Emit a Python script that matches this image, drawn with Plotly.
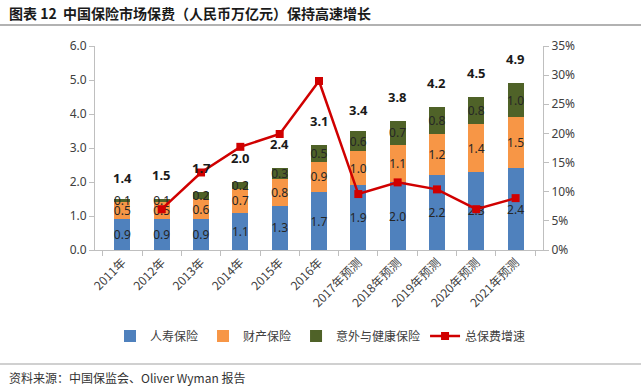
import plotly.graph_objects as go

years = ["2011年", "2012年", "2013年", "2014年", "2015年", "2016年",
         "2017年预测", "2018年预测", "2019年预测", "2020年预测", "2021年预测"]
life = [0.9, 0.9, 0.9, 1.1, 1.3, 1.7, 1.9, 2.0, 2.2, 2.3, 2.4]
prop = [0.5, 0.5, 0.6, 0.7, 0.8, 0.9, 1.0, 1.1, 1.2, 1.4, 1.5]
health = [0.1, 0.1, 0.2, 0.2, 0.3, 0.5, 0.6, 0.7, 0.8, 0.8, 1.0]
total = [1.4, 1.5, 1.7, 2.0, 2.4, 3.1, 3.4, 3.8, 4.2, 4.5, 4.9]
growth = [None, 0.070, 0.133, 0.177, 0.199, 0.290, 0.096, 0.116, 0.104, 0.070, 0.089]

FONT = "Noto Sans, Noto Sans CJK SC, sans-serif"
CJK = "Noto Sans CJK SC, sans-serif"
AX = "#bfbfbf"
TXT = "#404040"

W, H = 641, 391
L, R, T, B = 95, 98, 46, 141
pw, ph = W - L - R, H - T - B


def px(xp):
    return (xp - L) / pw


def py(yp):
    return (H - B - yp) / ph


fig = go.Figure()
for name, vals, col in [("人寿保险", life, "#4F81BD"),
                        ("财产保险", prop, "#F79646"),
                        ("意外与健康保险", health, "#4F6228")]:
    fig.add_trace(go.Bar(
        x=years, y=vals, name=name, marker=dict(color=col, line=dict(width=0)),
        text=[f"{v:.1f}" for v in vals], textposition="inside", textangle=0,
        insidetextanchor="middle", constraintext="none",
        textfont=dict(family=FONT, size=12, color="#262626"),
        cliponaxis=False,
    ))

fig.add_trace(go.Scatter(
    x=years, y=growth, name="总保费增速", yaxis="y2", mode="lines+markers",
    line=dict(color="#D00000", width=2.5),
    marker=dict(symbol="square", size=8, color="#D00000"),
))

for x, t in zip(years, total):
    fig.add_annotation(x=x, y=t, text=f"<b>{t:.1f}</b>", showarrow=False,
                       yshift=24, font=dict(family=FONT, size=13, color="#1a1a1a"))

fig.add_annotation(x=px(7), y=py(13), xref="paper", yref="paper", xanchor="left",
                   yanchor="middle", showarrow=False,
                   text="<b>图表 12  中国保险市场保费（人民币万亿元）保持高速增长</b>",
                   font=dict(family=CJK, size=14, color="#1a1a1a"))
fig.add_annotation(x=px(7), y=py(377), xref="paper", yref="paper", xanchor="left",
                   yanchor="middle", showarrow=False,
                   text="资料来源：中国保监会、Oliver Wyman 报告",
                   font=dict(family=CJK, size=12, color="#333333"))
fig.add_shape(type="line", xref="paper", yref="paper", x0=px(0), x1=px(641),
              y0=py(25), y1=py(25), line=dict(color="#999999", width=1.5))
fig.add_shape(type="line", xref="paper", yref="paper", x0=px(0), x1=px(641),
              y0=py(364), y1=py(364), line=dict(color="#c0c0c0", width=1.5))

fig.update_layout(
    width=W, height=H, margin=dict(l=L, r=R, t=T, b=B, autoexpand=False),
    plot_bgcolor="white", paper_bgcolor="white",
    barmode="stack", bargap=0.59,
    font=dict(family=FONT, size=12, color=TXT),
    showlegend=True,
    legend=dict(orientation="h", x=px(110), y=py(336), xanchor="left", yanchor="middle",
                font=dict(family=CJK, size=12, color=TXT), traceorder="normal",
                itemwidth=30),
    xaxis=dict(type="category", showline=True, linecolor=AX, linewidth=1,
               ticks="outside", tickson="boundaries", ticklen=5, tickcolor=AX,
               tickangle=-45, tickfont=dict(family=CJK, size=12, color=TXT),
               showgrid=False),
    yaxis=dict(range=[0, 6], dtick=1, tickformat=".1f", showline=True, linecolor=AX,
               ticks="outside", ticklen=5, tickcolor=AX, showgrid=False, zeroline=False,
               tickfont=dict(size=12, color=TXT)),
    yaxis2=dict(range=[0, 0.35], dtick=0.05, tickformat=".0%", overlaying="y",
                side="right", showline=True, linecolor=AX, ticks="outside", ticklen=5,
                tickcolor=AX, showgrid=False, zeroline=False,
                tickfont=dict(size=12, color=TXT)),
)

fig.write_html("out.html", config={"displayModeBar": False},
               post_script="document.body.style.margin='0';document.body.style.overflow='hidden';")
